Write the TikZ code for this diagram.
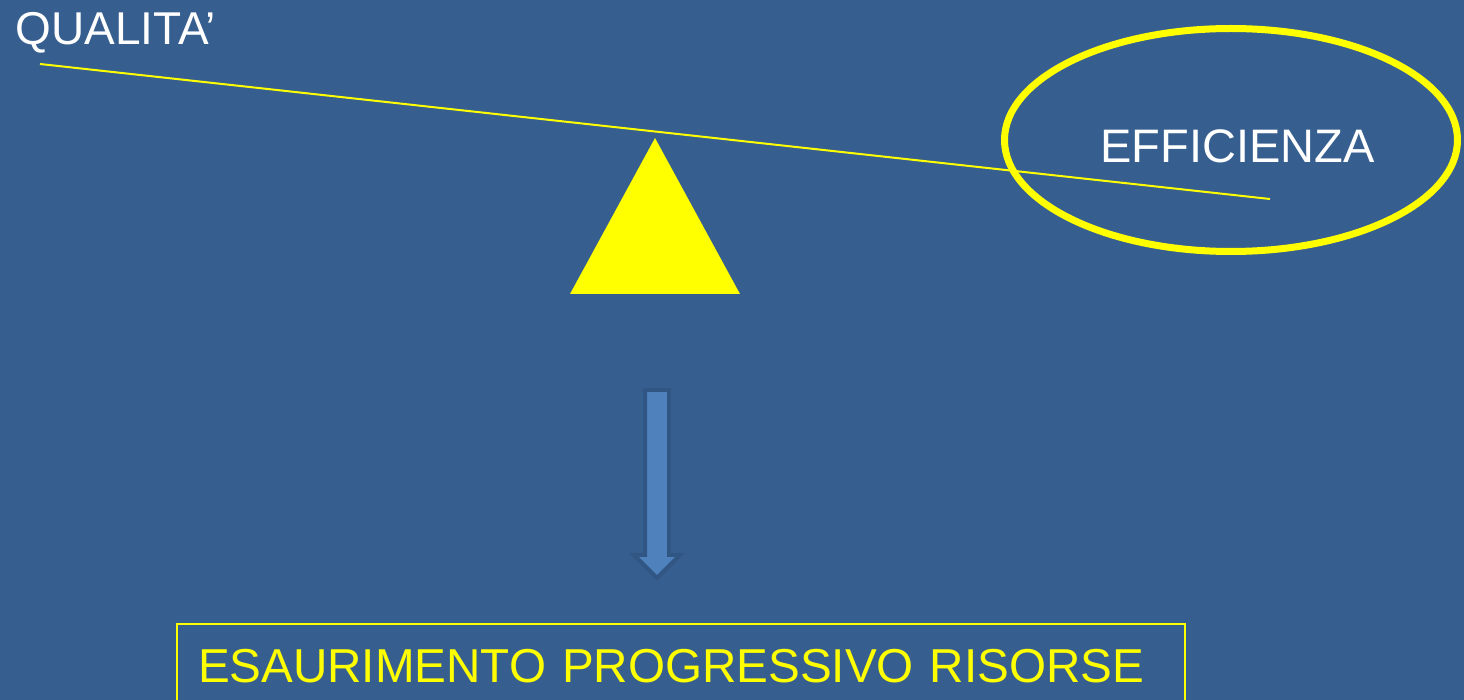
\documentclass[tikz,border=0pt]{standalone}
\usepackage{fontspec}
\setmainfont{Liberation Sans}
\usetikzlibrary{shapes.geometric}
\definecolor{slide}{RGB}{54,95,144}
\definecolor{arrowblue}{RGB}{79,129,189}
\definecolor{arrowedge}{RGB}{49,86,131}
\definecolor{signal}{RGB}{255,255,0}
\begin{document}
\begin{tikzpicture}[x=0.5pt, y=-0.5pt,
    label/.style={text=white, inner sep=0pt, font=\fontsize{23}{27}\selectfont},
    beam/.style={signal, line width=1pt},
    result/.style={draw=signal, line width=1pt, text=signal, align=left,
        minimum width=504pt, minimum height=42pt, text width=483pt,
        inner xsep=10.5pt, font=\fontsize{23.8}{28}\selectfont}]
    % Background of the slide
    \fill[slide] (0,0) rectangle (1464,700);
    \useasboundingbox (0,0) rectangle (1464,700);

    % Labels at the two ends of the beam
    \node[label, anchor=base west] (qual) at (15,45) {QUALITA’};
    \node[label, anchor=base west, font=\fontsize{23.5}{28}\selectfont] (eff) at (1100,163) {EFFICIENZA};

    % Draw the beam
    \coordinate (bl) at (40,64);
    \coordinate (br) at (1270,199);
    \draw[beam] (bl) -- (br);

    % Ring around the efficiency side
    \node[ellipse, draw=signal, line width=3.5pt, inner sep=0pt,
        minimum width=226.5pt, minimum height=111.5pt] (ring) at (1231,140) {};

    % Draw the fulcrum
    \fill[signal] (655,138) -- (740,294) -- (570,294) -- cycle;

    % Draw the down arrow
    \draw[draw=arrowedge, line width=2pt, fill=arrowblue]
        (645,390) -- (669,390) -- (669,555) -- (680,555) -- (657,578)
        -- (634,555) -- (645,555) -- cycle;

    % Consequence box
    \node[result] (res) at (681,666) {ESAURIMENTO PROGRESSIVO RISORSE};
\end{tikzpicture}
\end{document}
